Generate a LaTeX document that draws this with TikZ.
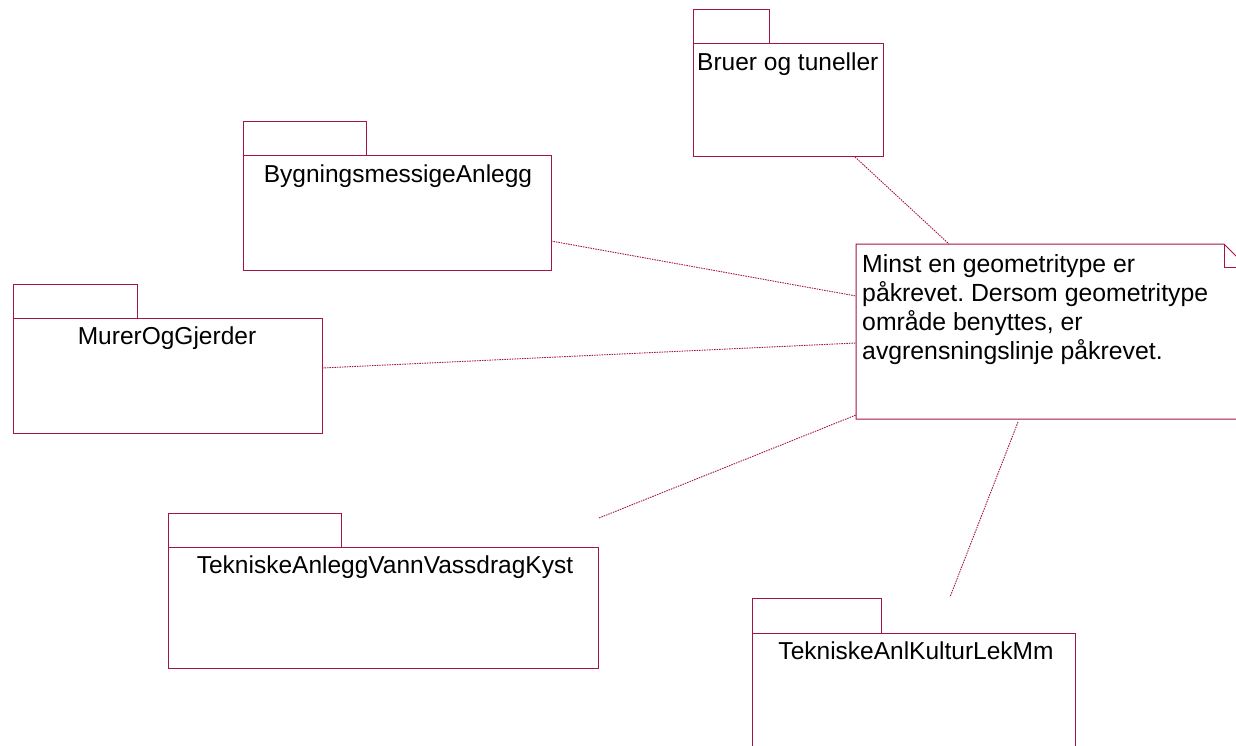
\documentclass[tikz,border=0pt]{standalone}
\usepackage{fontspec}
\setmainfont{Liberation Sans}
\frenchspacing
\definecolor{umlred}{RGB}{165,20,70}
\tikzset{
  pkgline/.style={draw=umlred, line width=1pt},
  pkglabel/.style={font=\fontsize{24.5}{29}\selectfont, anchor=center, inner sep=0pt},
  link/.style={draw=umlred, line width=0.9pt, dash pattern=on 1.5pt off 1pt},
}
\newcommand{\umlpkg}[7]{% name, x0, ytab, tabright, ybody, x1, ybot
  \draw[pkgline] (#2,#3) rectangle (#4,#5);
  \draw[pkgline] (#2,#5) rectangle (#6,#7);
  \coordinate (#1-nw) at (#2,#3);
}
\begin{document}
\begin{tikzpicture}[x=1pt,y=-1pt]
\useasboundingbox (0,0) rectangle (1236,746);
% packages
\umlpkg{br}{693}{10}{769}{44}{883}{157}
\node[pkglabel, anchor=west] (brt) at (697,64) {Bruer og tuneller};
\coordinate (brc) at (855,157);

\umlpkg{by}{243}{122}{366}{156}{551}{270}
\node[pkglabel] (byt) at (398,176) {BygningsmessigeAnlegg};
\coordinate (byc) at (551,241);

\umlpkg{mu}{13}{284}{137}{318}{322}{433}
\node[pkglabel] (mut) at (167,338) {MurerOgGjerder};
\coordinate (muc) at (322,368);

\umlpkg{tv}{168}{513}{341}{547}{598}{668}
\node[pkglabel] (tvt) at (385,567) {TekniskeAnleggVannVassdragKyst};
\coordinate (tvc) at (599,518);

\draw[pkgline] (752,598) rectangle (881,633);
\draw[pkgline] (752,760) -- (752,633) -- (1075,633) -- (1075,760);
\node[pkglabel] (tkt) at (916,651) {TekniskeAnlKulturLekMm};
\coordinate (tkc) at (950,597);

% note
\draw[pkgline] (1250,419) -- (856,419) -- (856,244) -- (1224,244) -- (1238,258);
\draw[pkgline] (1224,244) -- (1224,267) -- (1238,267);
\node[font=\fontsize{24.8}{29}\selectfont, anchor=north west, align=left, inner sep=0pt] (note) at (862,254)
  {Minst en geometritype er\\påkrevet. Dersom geometritype\\område benyttes, er\\avgrensningslinje påkrevet.};
\coordinate (n1) at (949,244);
\coordinate (n2) at (856,296);
\coordinate (n3) at (856,343);
\coordinate (n4) at (856,415);
\coordinate (n5) at (1018,422);

% connectors
\draw[link] (brc) -- (n1);
\draw[link] (byc) -- (n2);
\draw[link] (muc) -- (n3);
\draw[link] (tvc) -- (n4);
\draw[link] (n5) -- (tkc);
\end{tikzpicture}
\end{document}
